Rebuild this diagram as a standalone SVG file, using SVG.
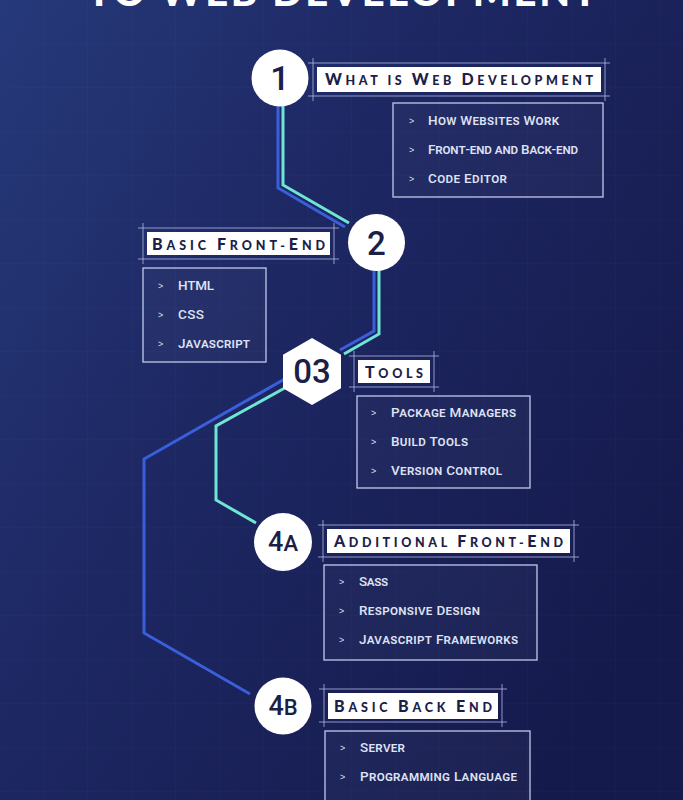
<svg xmlns="http://www.w3.org/2000/svg" width="683" height="800" viewBox="0 0 683 800">
<defs>
<linearGradient id="bg" x1="0" y1="0" x2="1" y2="0.7">
<stop offset="0" stop-color="#26397a"/>
<stop offset="0.45" stop-color="#1d2762"/>
<stop offset="1" stop-color="#151a4c"/>
</linearGradient>
<pattern id="grid" width="44" height="44" patternUnits="userSpaceOnUse">
<path d="M44 0V44M0 44H44" fill="none" stroke="#8fa2ff" stroke-opacity="0.05" stroke-width="1"/>
</pattern>
<style>
.frame{fill:none;stroke:#b9c0ea;stroke-opacity:0.75;stroke-width:1}
.box{fill:#ffffff;fill-opacity:0.03;stroke:#c3c8ea;stroke-width:1.3}
.tbox{fill:#ffffff}
.title{font-family:Lato,"Liberation Sans",sans-serif;font-weight:900;font-size:12.5px;fill:#1b2046}
.c{font-size:16px}
.item{font-family:Roboto,"Liberation Sans",sans-serif;font-weight:500;font-size:13.5px;font-variant:small-caps;fill:#dfe2f5}
.gt{font-family:"Liberation Sans",sans-serif;font-size:9px;fill:#dfe2f5}
.num{font-family:Roboto,"Liberation Sans",sans-serif;font-weight:500;fill:#1b2046;text-anchor:middle}
.blue{fill:none;stroke:#3a5fdb;stroke-width:3}
.cyan{fill:none;stroke:#6fe6d4;stroke-width:3}
</style>
</defs>
<rect width="683" height="800" fill="url(#bg)"/>
<rect width="683" height="800" fill="url(#grid)"/>
<text x="342" y="6" text-anchor="middle" textLength="510" lengthAdjust="spacing" font-family="Lato, 'Liberation Sans', sans-serif" font-weight="900" font-size="40" fill="#ffffff">TO WEB DEVELOPMENT</text>

<g id="connectors">
<path class="blue" d="M278,100 V188 L345,227"/>
<path class="cyan" d="M283,100 V185 L349,223"/>
<path class="blue" d="M374,262 V331 L340,350"/>
<path class="cyan" d="M379,262 V334 L344,354"/>
<path class="blue" d="M290,376 L144,459 V633 L250,694"/>
<path class="cyan" d="M292,384 L216,426 V500 L256,523"/>
</g>

<g id="node1">
<circle cx="280" cy="78" r="28.5" fill="#ffffff"/>
<text class="num" x="280" y="90" font-size="34">1</text>
<path class="frame" d="M308,63H610M308,96H610M313,58V101M605,58V101"/>
<rect class="tbox" x="317" y="67" width="284" height="25"/>
<text class="title" x="325" y="85" textLength="268" lengthAdjust="spacing"><tspan class="c">W</tspan>HAT IS <tspan class="c">W</tspan>EB <tspan class="c">D</tspan>EVELOPMENT</text>
<rect class="box" x="393" y="103" width="210" height="94"/>
<text class="gt" x="409" y="124">&gt;</text>
<text class="item" x="428" y="125" textLength="131" lengthAdjust="spacing">How Websites Work</text>
<text class="gt" x="409" y="153">&gt;</text>
<text class="item" x="428" y="154" textLength="150" lengthAdjust="spacing">Front-end and Back-end</text>
<text class="gt" x="409" y="182">&gt;</text>
<text class="item" x="428" y="183" textLength="79" lengthAdjust="spacing">Code Editor</text>
</g>

<g id="node2">
<circle cx="376.5" cy="242.5" r="28.5" fill="#ffffff"/>
<text class="num" x="376.5" y="255" font-size="33">2</text>
<path class="frame" d="M138,228H339M138,259H339M143,223V264M334,223V264"/>
<rect class="tbox" x="147" y="232" width="183" height="23"/>
<text class="title" x="152" y="249.5" textLength="173" lengthAdjust="spacing"><tspan class="c">B</tspan>ASIC <tspan class="c">F</tspan>RONT-<tspan class="c">E</tspan>ND</text>
<rect class="box" x="143" y="268" width="123" height="94"/>
<text class="gt" x="158" y="289">&gt;</text>
<text class="item" x="178" y="290" textLength="36" lengthAdjust="spacing">HTML</text>
<text class="gt" x="158" y="318">&gt;</text>
<text class="item" x="178" y="319" textLength="26" lengthAdjust="spacing">CSS</text>
<text class="gt" x="158" y="347">&gt;</text>
<text class="item" x="178" y="348" textLength="72" lengthAdjust="spacing">Javascript</text>
</g>

<g id="node3">
<polygon points="312,338 341,354.75 341,388.25 312,405 283,388.25 283,354.75" fill="#ffffff"/>
<text class="num" x="312" y="383" font-size="33">03</text>
<path class="frame" d="M349,356H439M349,387H439M354,351V392M434,351V392"/>
<rect class="tbox" x="358" y="360" width="72" height="23"/>
<text class="title" x="365" y="377.5" textLength="58" lengthAdjust="spacing"><tspan class="c">T</tspan>OOLS</text>
<rect class="box" x="357" y="396" width="173" height="92"/>
<text class="gt" x="371" y="416">&gt;</text>
<text class="item" x="391" y="417" textLength="125" lengthAdjust="spacing">Package Managers</text>
<text class="gt" x="371" y="445">&gt;</text>
<text class="item" x="391" y="446" textLength="77" lengthAdjust="spacing">Build Tools</text>
<text class="gt" x="371" y="474">&gt;</text>
<text class="item" x="391" y="475" textLength="111" lengthAdjust="spacing">Version Control</text>
</g>

<g id="node4a">
<circle cx="283" cy="542" r="29" fill="#ffffff"/>
<text class="num" x="283" y="551" font-size="27">4<tspan font-size="22">A</tspan></text>
<path class="frame" d="M318,525H579M318,557H579M323,520V562M574,520V562"/>
<rect class="tbox" x="327" y="529" width="243" height="24"/>
<text class="title" x="334" y="546.5" textLength="229" lengthAdjust="spacing"><tspan class="c">A</tspan>DDITIONAL <tspan class="c">F</tspan>RONT-<tspan class="c">E</tspan>ND</text>
<rect class="box" x="324" y="565" width="213" height="95"/>
<text class="gt" x="339" y="585">&gt;</text>
<text class="item" x="359" y="586" textLength="29" lengthAdjust="spacing">Sass</text>
<text class="gt" x="339" y="614">&gt;</text>
<text class="item" x="359" y="615" textLength="121" lengthAdjust="spacing">Responsive Design</text>
<text class="gt" x="339" y="643">&gt;</text>
<text class="item" x="359" y="644" textLength="159" lengthAdjust="spacing">Javascript Frameworks</text>
</g>

<g id="node4b">
<circle cx="283" cy="706" r="28.5" fill="#ffffff"/>
<text class="num" x="283" y="715" font-size="27">4<tspan font-size="22">B</tspan></text>
<path class="frame" d="M319,689H507M319,722H507M324,684V727M502,684V727"/>
<rect class="tbox" x="328" y="693" width="170" height="26"/>
<text class="title" x="334" y="712" textLength="158" lengthAdjust="spacing"><tspan class="c">B</tspan>ASIC <tspan class="c">B</tspan>ACK <tspan class="c">E</tspan>ND</text>
<rect class="box" x="325" y="731" width="205" height="80"/>
<text class="gt" x="340" y="751">&gt;</text>
<text class="item" x="360" y="752" textLength="45" lengthAdjust="spacing">Server</text>
<text class="gt" x="340" y="780">&gt;</text>
<text class="item" x="360" y="781" textLength="157" lengthAdjust="spacing">Programming Language</text>
</g>
</svg>
